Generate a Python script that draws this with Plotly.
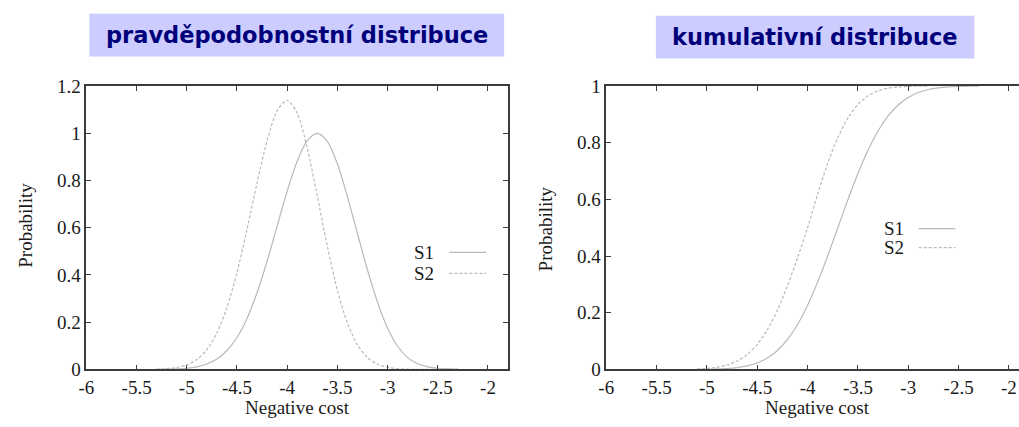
import plotly.graph_objects as go

# ---- data ----
pdf_x = [-5.3, -5.2, -5.1, -5.0, -4.9, -4.8, -4.7, -4.6, -4.5, -4.4, -4.3, -4.2, -4.1, -4.0,
         -3.9, -3.8, -3.7, -3.6, -3.5, -3.4, -3.3, -3.2, -3.1, -3.0, -2.9, -2.8, -2.7, -2.6,
         -2.5, -2.4, -2.3]
s1_pdf = [0.0003, 0.0009, 0.0022, 0.005, 0.011, 0.023, 0.044, 0.08, 0.135, 0.216, 0.325, 0.458,
          0.607, 0.755, 0.882, 0.969, 1.0, 0.966, 0.871, 0.732, 0.575, 0.421, 0.285, 0.175,
          0.098, 0.05, 0.024, 0.011, 0.005, 0.002, 0.001]
s2_pdf = [0.001, 0.003, 0.008, 0.019, 0.042, 0.084, 0.154, 0.262, 0.41, 0.593, 0.79, 0.968,
          1.095, 1.14, 1.085, 0.938, 0.735, 0.522, 0.336, 0.196, 0.104, 0.05, 0.022, 0.009,
          0.003, 0.001, 0.0, 0.0, 0.0, 0.0, 0.0]

cdf_x1 = [-5.1, -5.0, -4.9, -4.8, -4.7, -4.6, -4.5, -4.4, -4.3, -4.2, -4.1, -4.0, -3.9, -3.8,
          -3.7, -3.6, -3.5, -3.4, -3.3, -3.2, -3.1, -3.0, -2.9, -2.8, -2.7, -2.6, -2.5, -2.4, -2.3]
s1_cdf = [0.0002, 0.0006, 0.0013, 0.003, 0.0062, 0.0122, 0.0228, 0.040, 0.0668, 0.1056, 0.1587,
          0.2266, 0.3085, 0.4013, 0.5, 0.5987, 0.6915, 0.7734, 0.8413, 0.8944, 0.9332, 0.96,
          0.9772, 0.9878, 0.9938, 0.997, 0.9987, 0.9994, 0.9998]
cdf_x2 = [-5.1, -5.0, -4.9, -4.8, -4.7, -4.6, -4.5, -4.4, -4.3, -4.2, -4.1, -4.0, -3.9, -3.8,
          -3.7, -3.6, -3.5, -3.4, -3.3, -3.2, -3.1, -3.0, -2.9, -2.8]
s2_cdf = [0.0015, 0.0035, 0.0075, 0.0154, 0.0294, 0.0526, 0.0885, 0.14, 0.209, 0.295, 0.394,
          0.5, 0.619, 0.728, 0.818, 0.887, 0.935, 0.9655, 0.983, 0.9923, 0.9968, 0.9988,
          0.9996, 1.0]

series_names = ["S1", "S2"]
x_tickvals = [-6, -5.5, -5, -4.5, -4, -3.5, -3, -2.5, -2]
x_ticktext = ["-6", "-5.5", "-5", "-4.5", "-4", "-3.5", "-3", "-2.5", "-2"]
y1_tickvals = [0, 0.2, 0.4, 0.6, 0.8, 1.0, 1.2]
y1_ticktext = ["0", "0.2", "0.4", "0.6", "0.8", "1", "1.2"]
y2_tickvals = [0, 0.2, 0.4, 0.6, 0.8, 1.0]
y2_ticktext = ["0", "0.2", "0.4", "0.6", "0.8", "1"]
titles = ["pravděpodobnostní distribuce", "kumulativní distribuce"]
x_title = "Negative cost"
y_title = "Probability"

# ---- styling ----
W, H = 1019, 427
CURVE = "#b9b9b9"
AXIS = "#3c3c3c"
SERIF = "Liberation Serif, Times New Roman, serif"
TFONT = dict(family=SERIF, size=19, color="#1a1a1a")

def px_x(p):
    return p / W

def px_y(p):
    return 1 - p / H

fig = go.Figure()
fig.add_trace(go.Scatter(x=pdf_x, y=s1_pdf, mode="lines", line=dict(color=CURVE, width=1.2, shape="spline", smoothing=0.8),
                         xaxis="x", yaxis="y", showlegend=False, name="S1"))
fig.add_trace(go.Scatter(x=pdf_x, y=s2_pdf, mode="lines", line=dict(color=CURVE, width=1.2, dash="3px,2px", shape="spline", smoothing=0.8),
                         xaxis="x", yaxis="y", showlegend=False, name="S2"))
fig.add_trace(go.Scatter(x=cdf_x1, y=s1_cdf, mode="lines", line=dict(color=CURVE, width=1.2, shape="spline", smoothing=0.8),
                         xaxis="x2", yaxis="y2", showlegend=False, name="S1"))
fig.add_trace(go.Scatter(x=cdf_x2, y=s2_cdf, mode="lines", line=dict(color=CURVE, width=1.2, dash="3px,2px", shape="spline", smoothing=0.8),
                         xaxis="x2", yaxis="y2", showlegend=False, name="S2"))

ydom = [px_y(378), px_y(80)]
common_axis = dict(showgrid=False, zeroline=False, showline=True, linecolor=AXIS, linewidth=1.5,
                   ticks="inside", ticklen=5, tickwidth=1.2, tickcolor=AXIS, tickfont=TFONT)

fig.update_layout(
    width=W, height=H, margin=dict(l=0, r=0, t=0, b=0),
    paper_bgcolor="white", plot_bgcolor="white",
    xaxis=dict(domain=[px_x(79), px_x(504)], range=[-6, -1.8], anchor="y", mirror="ticks",
               tickvals=x_tickvals, ticktext=x_ticktext, **common_axis),
    yaxis=dict(domain=ydom, range=[0, 1.2], anchor="x", mirror="ticks",
               tickvals=y1_tickvals, ticktext=y1_ticktext, **common_axis),
    xaxis2=dict(domain=[px_x(603), 1.0], range=[-6, -1.9], anchor="y2", mirror="ticks",
                tickvals=x_tickvals, ticktext=x_ticktext, **common_axis),
    yaxis2=dict(domain=ydom, range=[0, 1.0], anchor="x2", mirror=False,
                tickvals=y2_tickvals, ticktext=y2_ticktext, **common_axis),
)

shapes = []
annotations = []

# title boxes
boxes = [(82, 4, 500, 49), (653, 6, 974, 51)]
for (x0, y0, x1, y1), t in zip(boxes, titles):
    shapes.append(dict(type="rect", xref="paper", yref="paper", x0=px_x(x0), x1=px_x(x1),
                       y0=px_y(y1), y1=px_y(y0), fillcolor="#ccccff", line=dict(width=0), layer="below"))
    annotations.append(dict(text="<b>" + t + "</b>", xref="paper", yref="paper",
                            x=px_x((x0 + x1) / 2), y=px_y((y0 + y1) / 2), showarrow=False,
                            xanchor="center", yanchor="middle",
                            font=dict(family="DejaVu Sans, Verdana, sans-serif", size=22.5, color="#00007a")))

# axis titles
annotations.append(dict(text=x_title, xref="x", yref="paper", x=-3.9, y=px_y(418), showarrow=False,
                        xanchor="center", yanchor="middle", font=TFONT))
annotations.append(dict(text=x_title, xref="x2", yref="paper", x=-3.9, y=px_y(418), showarrow=False,
                        xanchor="center", yanchor="middle", font=TFONT))
annotations.append(dict(text=y_title, xref="paper", yref="paper", x=px_x(18), y=px_y(226), showarrow=False,
                        textangle=-90, xanchor="center", yanchor="middle", font=TFONT))
annotations.append(dict(text=y_title, xref="paper", yref="paper", x=px_x(542), y=px_y(230), showarrow=False,
                        textangle=-90, xanchor="center", yanchor="middle", font=TFONT))

# manual legends (text left of line sample)
legend_specs = [
    ("x domain", "y domain", 0.83, 0.861, 0.948, [0.413, 0.339]),
    ("x2 domain", "y2 domain", 0.726, 0.757, 0.846, [0.497, 0.43]),
]
dashes = ["solid", "3px,2px"]
for xr, yr, tx, lx0, lx1, ys in legend_specs:
    for name, yy, d in zip(series_names, ys, dashes):
        annotations.append(dict(text=name, xref=xr, yref=yr, x=tx, y=yy, showarrow=False,
                                xanchor="right", yanchor="middle", font=TFONT))
        shapes.append(dict(type="line", xref=xr, yref=yr, x0=lx0, x1=lx1, y0=yy, y1=yy,
                           line=dict(color=CURVE, width=1.2, dash=d)))

fig.update_layout(shapes=shapes, annotations=annotations)
fig.write_html("out.html", config={"displayModeBar": False},
               post_script="document.body.style.margin='0';document.body.style.overflow='hidden';")
